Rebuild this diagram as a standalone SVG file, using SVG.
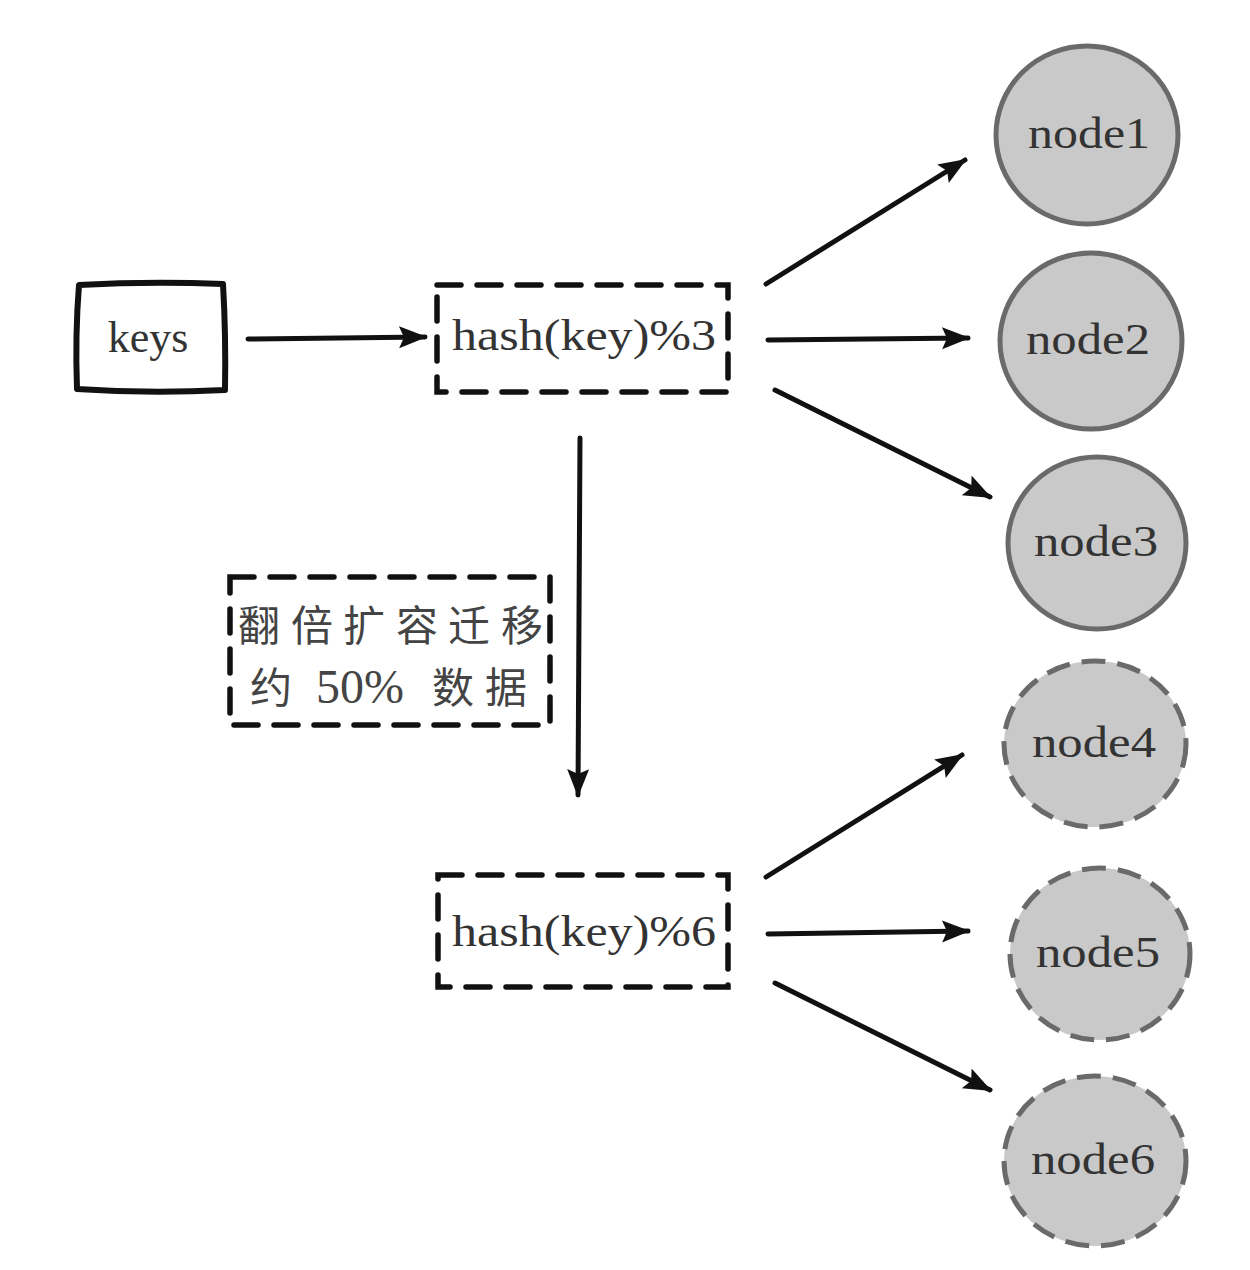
<svg xmlns="http://www.w3.org/2000/svg" width="1250" height="1270" viewBox="0 0 1250 1270">
<style>
.lbl{font-family:"Liberation Serif","DejaVu Serif",serif;font-size:44px;fill:#333;text-anchor:middle}
.cjk{font-family:"Noto Sans CJK SC",sans-serif;font-size:42px;fill:#444}
.num{font-family:"Liberation Serif",serif;font-size:48px;fill:#444}
.box{fill:#fff;stroke:#111;stroke-width:6;stroke-linecap:round;stroke-linejoin:round}
.dash{fill:#fff;stroke:#111;stroke-width:5.5;stroke-dasharray:24 16;stroke-linecap:round}
.node{fill:#c9c9c9;stroke:#6a6a6a;stroke-width:5}
.dnode{fill:#c9c9c9;stroke:#6a6a6a;stroke-width:5;stroke-dasharray:24 12}
.edge{stroke:#111;stroke-width:5;fill:none;stroke-linecap:round}
</style>
<defs>
<marker id="ah" markerUnits="userSpaceOnUse" markerWidth="30" markerHeight="24" refX="26" refY="11" orient="auto">
<path d="M0,0 L28,11 L0,22 L5,11 Z" fill="#111"/>
</marker>
</defs>
<rect width="1250" height="1270" fill="#fff"/>
<g id="connectors">
<path class="edge" marker-end="url(#ah)" d="M248,339 L425,337"/>
<path class="edge" marker-end="url(#ah)" d="M766,284 L965,160"/>
<path class="edge" marker-end="url(#ah)" d="M768,340 L968,338"/>
<path class="edge" marker-end="url(#ah)" d="M775,390 L990,497"/>
<path class="edge" marker-end="url(#ah)" d="M580,438 L578,795"/>
<path class="edge" marker-end="url(#ah)" d="M766,877 L962,755"/>
<path class="edge" marker-end="url(#ah)" d="M768,934 L968,931"/>
<path class="edge" marker-end="url(#ah)" d="M775,983 L990,1090"/>
</g>
<g id="keys">
<path class="box" d="M79,285 Q150,281 223,284 Q226,335 225,390 Q150,394 77,389 Q75,335 79,285 Z"/>
<text class="lbl" x="148" y="352">keys</text>
</g>
<g id="hash3">
<rect class="dash" x="437" y="285" width="291" height="107"/>
<text class="lbl" x="584" y="350" textLength="264" lengthAdjust="spacingAndGlyphs">hash(key)%3</text>
</g>
<g id="note">
<rect class="dash" x="230" y="577" width="320" height="148"/>
<text class="cjk" y="641"><tspan x="238">翻</tspan><tspan x="291">倍</tspan><tspan x="343">扩</tspan><tspan x="396">容</tspan><tspan x="448">迁</tspan><tspan x="501">移</tspan></text>
<text class="cjk" y="703"><tspan x="250">约</tspan><tspan x="432">数</tspan><tspan x="485">据</tspan></text>
<text class="num" x="316" y="703">50%</text>
</g>
<g id="hash6">
<rect class="dash" x="438" y="875" width="290" height="112"/>
<text class="lbl" x="584" y="946" textLength="264" lengthAdjust="spacingAndGlyphs">hash(key)%6</text>
</g>
<g id="node1">
<ellipse class="node" cx="1087" cy="135" rx="91" ry="89"/>
<text class="lbl" x="1089" y="148" textLength="122" lengthAdjust="spacingAndGlyphs">node1</text>
</g>
<g id="node2">
<ellipse class="node" cx="1091" cy="341" rx="91" ry="88"/>
<text class="lbl" x="1088" y="354" textLength="124" lengthAdjust="spacingAndGlyphs">node2</text>
</g>
<g id="node3">
<ellipse class="node" cx="1097" cy="543" rx="89" ry="86"/>
<text class="lbl" x="1096" y="556" textLength="124" lengthAdjust="spacingAndGlyphs">node3</text>
</g>
<g id="node4">
<ellipse class="dnode" cx="1095" cy="744" rx="91" ry="83"/>
<text class="lbl" x="1094" y="757" textLength="124" lengthAdjust="spacingAndGlyphs">node4</text>
</g>
<g id="node5">
<ellipse class="dnode" cx="1100" cy="954" rx="90" ry="86"/>
<text class="lbl" x="1098" y="967" textLength="124" lengthAdjust="spacingAndGlyphs">node5</text>
</g>
<g id="node6">
<ellipse class="dnode" cx="1095" cy="1161" rx="91" ry="85"/>
<text class="lbl" x="1093" y="1174" textLength="124" lengthAdjust="spacingAndGlyphs">node6</text>
</g>
</svg>
